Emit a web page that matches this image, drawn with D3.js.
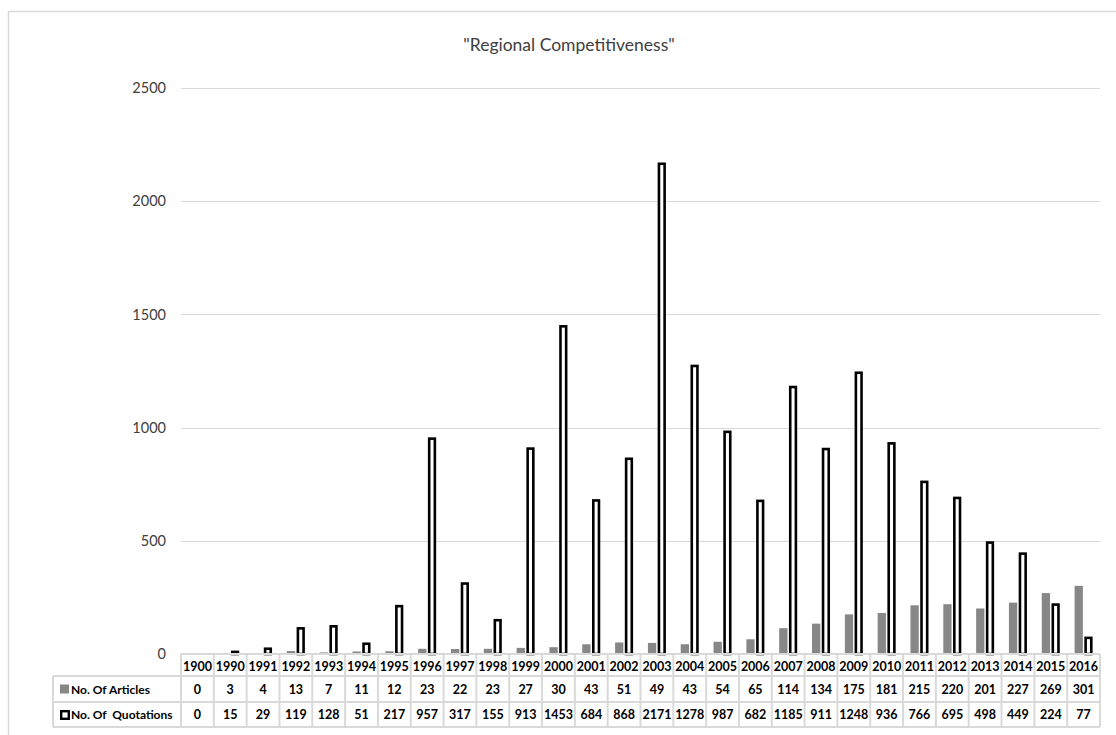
<!DOCTYPE html>
<html>
<head>
<meta charset="utf-8">
<script src="https://cdn.jsdelivr.net/npm/d3@7"></script>
<style>
  html, body { margin: 0; padding: 0; background: #fff; }
  svg { display: block; }
</style>
</head>
<body>
<script>
const title = "\"Regional Competitiveness\"";
const categories = ["1900","1990","1991","1992","1993","1994","1995","1996","1997","1998","1999","2000","2001","2002","2003","2004","2005","2006","2007","2008","2009","2010","2011","2012","2013","2014","2015","2016"];
const articles = [0,3,4,13,7,11,12,23,22,23,27,30,43,51,49,43,54,65,114,134,175,181,215,220,201,227,269,301];
const quotations = [0,15,29,119,128,51,217,957,317,155,913,1453,684,868,2171,1278,987,682,1185,911,1248,936,766,695,498,449,224,77];
const seriesNames = ["No. Of Articles", "No. Of  Quotations"];
const yTicks = [0, 500, 1000, 1500, 2000, 2500];

const W = 1116, H = 735;
const plotLeft = 181, plotRight = 1100, plotTop = 88, plotBottom = 654;
const tableLeft = 53;
const rowH = [22, 26, 25];

const svg = d3.select("body").append("svg").attr("width", W).attr("height", H);
const font = "Lato, 'Noto Sans', sans-serif";

// outer frame
svg.append("rect").attr("x", 8.5).attr("y", 11.5).attr("width", W + 20).attr("height", H + 20)
  .attr("fill", "none").attr("stroke", "#d9d9d9").attr("stroke-width", 1.5);

// title
svg.append("text").attr("x", 569).attr("y", 51).attr("text-anchor", "middle")
  .attr("font-family", font).attr("font-size", 17.5).attr("fill", "#404040").text(title);

const x = d3.scaleBand().domain(categories).range([plotLeft, plotRight]).padding(0);
const y = d3.scaleLinear().domain([0, 2500]).range([plotBottom, plotTop]);
const sub = d3.scaleBand().domain(["a", "q"]).range([-9, 9]).paddingInner(0.15);

// gridlines
svg.append("g").selectAll("line").data(yTicks.filter(d => d > 0)).join("line")
  .attr("x1", plotLeft).attr("x2", plotRight)
  .attr("y1", d => Math.round(y(d)) + 0.5).attr("y2", d => Math.round(y(d)) + 0.5)
  .attr("stroke", "#d9d9d9").attr("stroke-width", 1);

// y axis
const yAxis = d3.axisLeft(y).tickValues(yTicks).tickSize(0).tickPadding(0).tickFormat(d3.format("d"));
const ya = svg.append("g").attr("transform", `translate(166,0)`).call(yAxis);
ya.select(".domain").remove();
ya.selectAll("text").attr("font-family", font).attr("font-size", 14.5).attr("fill", "#404040");

const cx = d => x(d) + x.bandwidth() / 2;

// articles bars
svg.append("g").selectAll("rect").data(categories).join("rect")
  .attr("x", (d) => cx(d) + sub("a"))
  .attr("width", sub.bandwidth())
  .attr("y", (d, i) => y(articles[i]))
  .attr("height", (d, i) => plotBottom - y(articles[i]))
  .attr("fill", "#878787");

// quotations bars
const sw = 2.6;
svg.append("g").selectAll("rect").data(categories).join("rect")
  .attr("x", (d) => cx(d) + sub("q") + sw / 2)
  .attr("width", sub.bandwidth() - sw)
  .attr("y", (d, i) => y(quotations[i]) + sw / 2)
  .attr("height", (d, i) => Math.max(0, plotBottom - y(quotations[i]) - sw / 2))
  .attr("fill", "#fff").attr("stroke", "#000").attr("stroke-width", sw)
  .attr("display", (d, i) => quotations[i] > 0 ? null : "none");

// data table
const gridCol = "#d9d9d9";
const t = svg.append("g");
const r0 = plotBottom, r1 = r0 + rowH[0], r2 = r1 + rowH[1], r3 = r2 + rowH[2];
const tLine = (x1, y1, x2, y2) => t.append("line").attr("x1", x1).attr("y1", y1).attr("x2", x2).attr("y2", y2)
  .attr("stroke", gridCol).attr("stroke-width", 2);
tLine(plotLeft, r0, plotRight, r0);
tLine(tableLeft, r1, plotRight, r1);
tLine(tableLeft, r2, plotRight, r2);
tLine(tableLeft, r3, plotRight, r3);
tLine(tableLeft, r1, tableLeft, r3);
categories.forEach(c => tLine(x(c), r0, x(c), r3));
tLine(plotRight, r0, plotRight, r3);

const cellText = (xx, yy, s, anchor) => t.append("text").attr("x", xx).attr("y", yy)
  .attr("text-anchor", anchor || "middle").attr("dominant-baseline", "central")
  .attr("font-family", font).attr("font-size", 12.5).attr("font-weight", "bold").attr("fill", "#000").text(s);

categories.forEach((c, i) => {
  cellText(cx(c), (r0 + r1) / 2 + 1, c);
  cellText(cx(c), (r1 + r2) / 2, articles[i]);
  cellText(cx(c), (r2 + r3) / 2, quotations[i]);
});

// legend keys
t.append("rect").attr("x", 60).attr("y", (r1 + r2) / 2 - 4.5).attr("width", 9).attr("height", 9).attr("fill", "#878787");
t.append("rect").attr("x", 61.2).attr("y", (r2 + r3) / 2 - 3.3).attr("width", 7.6).attr("height", 7.6)
  .attr("fill", "#fff").attr("stroke", "#000").attr("stroke-width", 2.4);
cellText(71, (r1 + r2) / 2, seriesNames[0], "start").attr("font-size", 12);
cellText(71, (r2 + r3) / 2, seriesNames[1], "start").attr("font-size", 12).style("white-space", "pre");
</script>
</body>
</html>
